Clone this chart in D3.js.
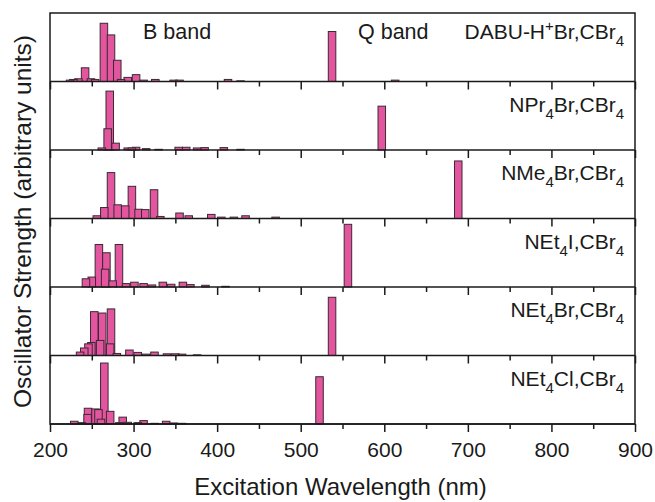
<!DOCTYPE html>
<html>
<head>
<meta charset="utf-8">
<script src="https://cdn.jsdelivr.net/npm/d3@7"></script>
<style>
  body { margin: 0; background: #fff; }
  svg text { font-family: "Liberation Sans", Arial, sans-serif; fill: #1a1a1a; }
</style>
</head>
<body>
<script>
// excitation wavelength (nm), oscillator strength (arbitrary units, per panel)
const dabuBars = [[224,0.02],[228,0.03],[234,0.04],[242,0.20],[249,0.04],[254,0.03],[264.5,0.85],[273,0.68],[280.5,0.31],[285,0.03],[293,0.06],[303,0.10],[312,0.02],[326,0.03],[348,0.02],[355,0.02],[413,0.03],[428,0.01],[537.5,0.73],[613,0.02]];
const npr4Bars = [[262,0.03],[269,0.31],[271.5,0.86],[278.5,0.10],[293,0.03],[298,0.03],[303,0.04],[315,0.02],[330,0.01],[354,0.04],[363,0.04],[376,0.03],[385,0.035],[408,0.035],[428,0.01],[597,0.64]];
const nme4Bars = [[256,0.04],[265,0.16],[273,0.67],[281,0.20],[290,0.185],[298,0.47],[306,0.135],[314,0.13],[324.5,0.42],[332,0.03],[355,0.08],[366,0.04],[393,0.06],[405,0.02],[420,0.02],[434,0.04],[470,0.02],[688.5,0.84]];
const net4iBars = [[243,0.12],[250,0.145],[258.5,0.62],[267.5,0.50],[266,0.26],[275,0.09],[282.5,0.62],[291,0.05],[301,0.07],[312,0.05],[322,0.03],[335,0.07],[345,0.04],[359,0.07],[368,0.035],[386,0.025],[410,0.01],[556.5,0.915]];
const net4brBars = [[236,0.05],[241,0.11],[246,0.17],[249.5,0.19],[253,0.64],[262.5,0.62],[260,0.22],[273,0.68],[272,0.17],[280,0.03],[295,0.08],[305,0.045],[315,0.02],[325,0.05],[340,0.025],[350,0.025],[358,0.02],[376,0.01],[537.5,0.85]];
const net4clBars = [[229,0.04],[238,0.02],[245.5,0.23],[245,0.14],[254.5,0.22],[258,0.21],[261,0.07],[265,0.89],[272,0.185],[283,0.02],[287,0.10],[293,0.025],[305,0.02],[312,0.05],[325,0.01],[339,0.04],[348,0.015],[358,0.01],[522.5,0.69]];

// panel labels as [text, kind] parts
const panelLabels = [
  [["DABU-H",""],["+","sup"],["Br,CBr",""],["4","sub"]],
  [["NPr",""],["4","sub"],["Br,CBr",""],["4","sub"]],
  [["NMe",""],["4","sub"],["Br,CBr",""],["4","sub"]],
  [["NEt",""],["4","sub"],["I,CBr",""],["4","sub"]],
  [["NEt",""],["4","sub"],["Br,CBr",""],["4","sub"]],
  [["NEt",""],["4","sub"],["Cl,CBr",""],["4","sub"]]
];
const panelData = [dabuBars, npr4Bars, nme4Bars, net4iBars, net4brBars, net4clBars];
const majorTicks = [200, 300, 400, 500, 600, 700, 800, 900];
const minorTicks = [250, 350, 450, 550, 650, 750, 850];
const barWidthNm = 9;

const W = 655, H = 502;
const plotLeft = 50, plotRight = 635, plotTop = 13, plotBottom = 424;
const panelH = (plotBottom - plotTop) / panelData.length;
const shift = { "": 0, sub: 7, sup: -8 };

const svg = d3.select("body").append("svg")
  .attr("width", W).attr("height", H);

const x = d3.scaleLinear().domain([200, 900]).range([plotLeft, plotRight]);

panelData.forEach(function(bars, i) {
  const y0 = plotTop + i * panelH;
  const y1 = y0 + panelH;
  const y = d3.scaleLinear().domain([0, 1]).range([y1, y0]);
  const g = svg.append("g");

  // taller bars first so the short ones stay visible on top
  const sorted = bars.slice().sort(function(a, b) { return b[1] - a[1]; });
  g.selectAll("rect")
    .data(sorted)
    .enter().append("rect")
    .attr("x", function(d) { return x(d[0] - barWidthNm / 2); })
    .attr("width", x(200 + barWidthNm) - x(200))
    .attr("y", function(d) { return y(d[1]); })
    .attr("height", function(d) { return y(0) - y(d[1]); })
    .attr("fill", "#e4559f")
    .attr("stroke", "#3a2a33")
    .attr("stroke-width", 1);

  // ticks along the bottom of every panel
  const last = i === panelData.length - 1;
  svg.append("g")
    .attr("transform", "translate(0," + y1 + ")")
    .call(d3.axisBottom(x).tickValues(majorTicks).tickSize(8).tickSizeOuter(0)
      .tickFormat(last ? d3.format("d") : ""))
    .call(function(a) {
      a.select(".domain").remove();
      a.selectAll("line").attr("stroke", "#1a1a1a").attr("stroke-width", 1.5);
      a.selectAll("text").attr("font-size", 21).attr("dy", "0.71em").attr("y", 18)
        .attr("font-family", null).attr("fill", "#1a1a1a");
    });
  svg.append("g")
    .attr("transform", "translate(0," + y1 + ")")
    .call(d3.axisBottom(x).tickValues(minorTicks).tickSize(5).tickSizeOuter(0).tickFormat(""))
    .call(function(a) {
      a.select(".domain").remove();
      a.selectAll("line").attr("stroke", "#1a1a1a").attr("stroke-width", 1.5);
    });

  // panel divider
  svg.append("line")
    .attr("x1", plotLeft).attr("x2", plotRight).attr("y1", y1).attr("y2", y1)
    .attr("stroke", "#1a1a1a").attr("stroke-width", 1.5);

  // label
  const t = svg.append("text")
    .attr("x", 624)
    .attr("y", y0 + (i === 0 ? 26 : 30))
    .attr("text-anchor", "end")
    .attr("font-size", 21);
  let prev = "";
  panelLabels[i].forEach(function(p) {
    const s = t.append("tspan").text(p[0]).attr("dy", shift[p[1]] - shift[prev]);
    if (p[1] !== "") s.attr("font-size", 15);
    prev = p[1];
  });
});

// outer frame
svg.append("rect")
  .attr("x", plotLeft).attr("y", plotTop)
  .attr("width", plotRight - plotLeft).attr("height", plotBottom - plotTop)
  .attr("fill", "none").attr("stroke", "#1a1a1a").attr("stroke-width", 1.5);

// band labels
svg.append("text").attr("x", 143).attr("y", 39).attr("font-size", 21.5).text("B band");
svg.append("text").attr("x", 358).attr("y", 39).attr("font-size", 21.5).text("Q band");

// axis titles
svg.append("text")
  .attr("x", (plotLeft + plotRight) / 2 - 2).attr("y", 495)
  .attr("text-anchor", "middle").attr("font-size", 24)
  .text("Excitation Wavelength (nm)");
svg.append("text")
  .attr("transform", "translate(31," + ((plotTop + plotBottom) / 2 + 3) + ") rotate(-90)")
  .attr("text-anchor", "middle").attr("font-size", 24.5)
  .text("Oscillator Strength (arbitrary units)");
</script>
</body>
</html>
